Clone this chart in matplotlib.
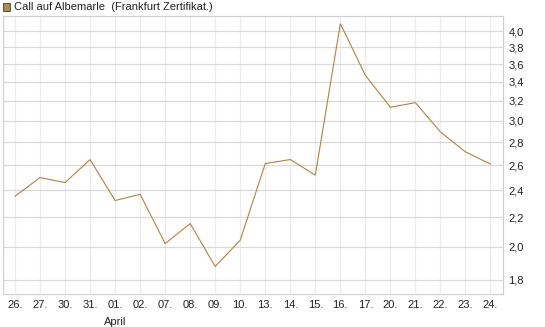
import matplotlib
matplotlib.use("Agg")
import matplotlib.pyplot as plt
from matplotlib.ticker import FixedLocator, FuncFormatter, NullLocator
from matplotlib.patches import Rectangle

plt.rcParams['font.family'] = ['Liberation Sans', 'DejaVu Sans']

dates = ["26.", "27.", "30.", "31.", "01.", "02.", "07.", "08.", "09.", "10.",
         "13.", "14.", "15.", "16.", "17.", "20.", "21.", "22.", "23.", "24."]
values = [2.353, 2.499, 2.459, 2.648, 2.321, 2.368, 2.021, 2.155, 1.877, 2.043,
          2.614, 2.648, 2.518, 4.10, 3.472, 3.133, 3.18, 2.894, 2.714, 2.61]
yticks = [1.8, 2.0, 2.2, 2.4, 2.6, 2.8, 3.0, 3.2, 3.4, 3.6, 3.8, 4.0]
month_label = "April"
month_index = 4
title = "Call auf Albemarle  (Frankfurt Zertifikat.)"

line_color = "#B3823E"

fig = plt.figure(figsize=(5.45, 3.27), dpi=100)
W, H = 545, 327
left, right, top, bottom = 2.5, 503, 16.3, 293.5
ax = fig.add_axes([left / W, (H - bottom) / H, (right - left) / W, (bottom - top) / H])

x = list(range(len(dates)))
ax.plot(x, values, color=line_color, lw=0.8, solid_joinstyle='miter')

ax.set_yscale('log')
ax.set_ylim(1.721, 4.198)
ax.set_xlim(-0.5, len(dates) - 0.5)

ax.yaxis.set_major_locator(FixedLocator(yticks))
ax.yaxis.set_minor_locator(NullLocator())
ax.yaxis.set_major_formatter(FuncFormatter(lambda v, p: f"{v:.1f}".replace(".", ",")))
ax.yaxis.tick_right()
ax.tick_params(axis='y', which='both', length=0, pad=4, labelsize=8, colors='#222222')

ax.set_xticks(x)
ax.set_xticklabels(dates)
ax.tick_params(axis='x', length=0, pad=4.5, labelsize=8, colors='#222222')

ax.grid(axis='y', color='#d9d9d9', lw=0.9)
ax.grid(axis='x', color='#ececec', lw=0.9)
ax.set_axisbelow(True)
for s in ax.spines.values():
    s.set_color('#d0d0d0')
    s.set_linewidth(0.9)

ax.text(month_index, -0.085, month_label, transform=ax.get_xaxis_transform(),
        ha='center', va='top', fontsize=8, color='#222222')

fig.patches.append(Rectangle((2.5 / W, 1 - 10.5 / H), 7 / W, 7 / H, transform=fig.transFigure,
                             facecolor='#B08850', edgecolor='#3a3a3a', lw=0.6))
fig.text(14 / W, 1 - 7 / H, title, ha='left', va='center', fontsize=8, color='#222222')

fig.savefig("out.png", dpi=100)
